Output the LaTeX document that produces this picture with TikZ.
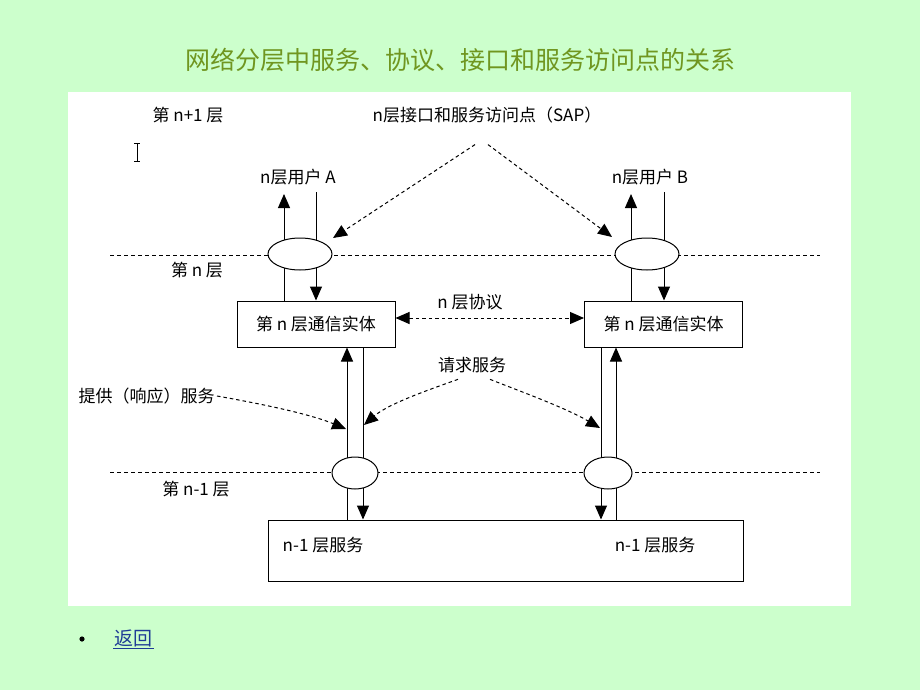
\documentclass[tikz,border=0pt]{standalone}
\usepackage{fontspec}
\setmainfont{Noto Sans CJK SC}
\usetikzlibrary{shapes.geometric,arrows.meta,positioning}

\definecolor{slidegreen}{RGB}{204,255,204}
\definecolor{titlegreen}{RGB}{112,150,32}
\definecolor{linkblue}{RGB}{30,60,150}

\tikzset{
    txt/.style={font=\fontsize{17}{17}\selectfont, inner sep=0pt},
    entity/.style={draw, fill=white, minimum width=158pt, minimum height=46pt, inner sep=0pt, font=\fontsize{17}{17}\selectfont},
    sap/.style={draw, ellipse, fill=white, inner sep=0pt, minimum height=32pt},
    layerline/.style={dash pattern=on 4pt off 3pt},
    flow/.style={-{Triangle[length=14pt,width=12pt]}},
    pointer/.style={dash pattern=on 3.5pt off 3pt, -{Triangle[length=14pt,width=12pt]}},
}

\begin{document}
\begin{tikzpicture}[x=1pt, y=-1pt, line width=1pt]
    % Slide background and white panel
    \fill[slidegreen] (0,0) rectangle (920,690);
    \useasboundingbox (0,0) rectangle (920,690);
    \fill[white] (68,92) rectangle (851,606);

    % Title
    \node[titlegreen, font=\fontsize{25}{25}\selectfont, inner sep=0pt] (title) at (460,60) {网络分层中服务、协议、接口和服务访问点的关系};

    % Layer boundaries
    \draw[layerline] (110,255) -- (820,255);
    \draw[layerline] (110,472) -- (820,472);

    % Layer names
    \node[txt] (layerup) at (188,115) {第 n+1 层};
    \node[txt] (layern) at (197,270) {第 n 层};
    \node[txt] (layerlow) at (196,489) {第 n-1 层};

    % Text cursor mark
    \draw[line width=0.8pt] (137,143) -- (137,161);
    \draw[line width=0.8pt] (134,143) -- (140,143);
    \draw[line width=0.8pt] (134,161) -- (140,161);

    % Communication entities
    \node[entity] (boxA) at (316,324) {第 n 层通信实体};
    \node[entity] (boxB) at (663.5,324) {第 n 层通信实体};
    \node[draw, fill=white, minimum width=475pt, minimum height=61pt] (boxlow) at (505.5,550.5) {};
    \node[txt] (servA) at (323,545) {n-1 层服务};
    \node[txt] (servB) at (655,545) {n-1 层服务};

    % Users
    \node[txt] (userA) at (298,177) {n层用户 A};
    \node[txt] (userB) at (650,177) {n层用户 B};

    % Vertical flows (drawn before the SAP ellipses)
    \coordinate (upA) at (284,194);
    \coordinate (downA) at (316,192);
    \coordinate (upB) at (631,194);
    \coordinate (downB) at (664,192);
    \draw[flow] (boxA.north -| upA) -- (upA);
    \draw[flow] (downA) -- (boxA.north -| downA);
    \draw[flow] (boxB.north -| upB) -- (upB);
    \draw[flow] (downB) -- (boxB.north -| downB);

    \coordinate (lowupA) at (347,0);
    \coordinate (lowdownA) at (363,0);
    \coordinate (lowdownB) at (601,0);
    \coordinate (lowupB) at (616,0);
    \draw[flow] (boxlow.north -| lowupA) -- (boxA.south -| lowupA);
    \draw[flow] (boxA.south -| lowdownA) -- (boxlow.north -| lowdownA);
    \draw[flow] (boxB.south -| lowdownB) -- (boxlow.north -| lowdownB);
    \draw[flow] (boxlow.north -| lowupB) -- (boxB.south -| lowupB);

    % Service access points
    \node[sap, minimum width=64pt] (sapA) at (300,254) {};
    \node[sap, minimum width=64pt] (sapB) at (647,254) {};
    \node[sap, minimum width=46pt] (sapA1) at (355,473) {};
    \node[sap, minimum width=48pt] (sapB1) at (608,473) {};

    % SAP label and pointers
    \node[txt] (saplbl) at (487,115) {n层接口和服务访问点（SAP）};
    \coordinate (sapAtip) at (333,238);
    \coordinate (sapBtip) at (612,237);
    \draw[pointer] ([xshift=-12pt, yshift=-21pt]saplbl.south) -- (sapAtip);
    \draw[pointer] ([xshift=1pt, yshift=-21pt]saplbl.south) -- (sapBtip);

    % Peer protocol
    \node[txt] (protlbl) at (470,302) {n 层协议};
    \draw[pointer, {Triangle[length=14pt,width=12pt]}-{Triangle[length=14pt,width=12pt]}] ([yshift=6pt]boxA.east) -- ([yshift=6pt]boxB.west);

    % Requested service
    \node[txt] (reqlbl) at (472,365) {请求服务};
    \coordinate (reqAtip) at (364,425);
    \coordinate (reqBtip) at (600,428);
    \draw[pointer] ([xshift=-14pt, yshift=-6pt]reqlbl.south) .. controls (428,390) and (388,404) .. (reqAtip);
    \draw[pointer] ([xshift=18pt, yshift=-6pt]reqlbl.south) .. controls (522,392) and (566,408) .. (reqBtip);

    % Provided service
    \node[txt, anchor=west] (provlbl) at (78,396) {提供（响应）服务};
    \coordinate (provtip) at (346,429);
    \draw[pointer] ([xshift=2pt]provlbl.east) .. controls (262,404) and (310,414) .. (provtip);

    % Back link
    \fill (82,639) circle (2.6pt);
    \node[linkblue, font=\fontsize{19}{19}\selectfont, inner sep=1pt, anchor=west] (back) at (113,638) {返回};
    \draw[linkblue, line width=0.8pt] (back.south west) -- (back.south east);
\end{tikzpicture}
\end{document}
